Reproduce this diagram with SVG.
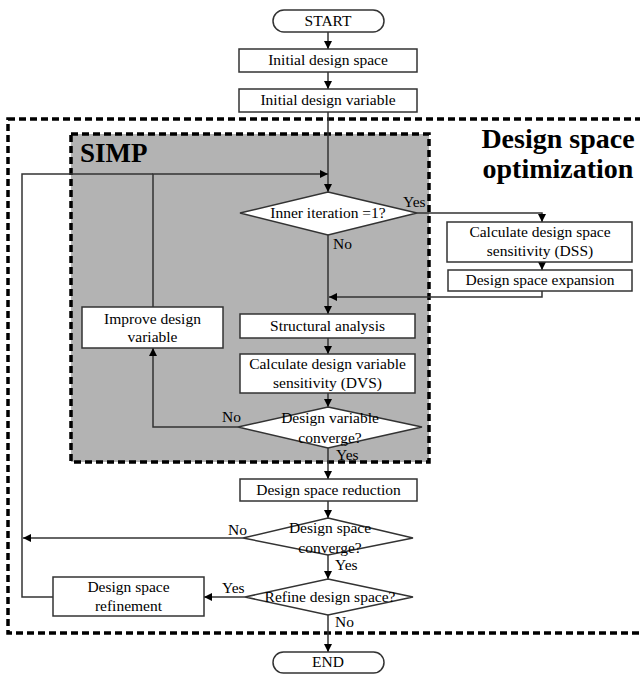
<svg xmlns="http://www.w3.org/2000/svg" width="640" height="674" viewBox="0 0 640 674">
<style>
  .box { fill: #ffffff; stroke: #333333; stroke-width: 1.5; }
  .t { font-family: "Liberation Serif", "Times New Roman", serif; font-size: 15.5px; fill: #000000; text-anchor: middle; }
  .lbl { font-family: "Liberation Serif", "Times New Roman", serif; font-size: 15.5px; fill: #000000; }
  .title { font-family: "Liberation Serif", "Times New Roman", serif; font-weight: bold; fill: #000000; }
  .dash { fill: none; stroke: #000000; stroke-width: 3.5; stroke-dasharray: 7 4; }
  .conn { fill: none; stroke: #333333; stroke-width: 1.5; }
</style>
<defs>
  <marker id="arr" viewBox="0 0 10 10" refX="10" refY="5" markerWidth="8" markerHeight="8" markerUnits="userSpaceOnUse" orient="auto">
    <path d="M0,0 L10,5 L0,10 z" fill="#000000"/>
  </marker>
</defs>
<rect width="640" height="674" fill="#ffffff"/>

<g id="outer-region">
  <rect x="8" y="119" width="636" height="514" class="dash"/>
  <text class="title" x="558" y="148" font-size="28" text-anchor="middle">Design space</text>
  <text class="title" x="558" y="178" font-size="28" text-anchor="middle">optimization</text>
</g>
<g id="simp-region">
  <rect x="71" y="134" width="358" height="328" fill="#b3b3b3"/>
  <rect x="71" y="134" width="358" height="328" class="dash"/>
  <text class="title" x="80" y="162" font-size="27">SIMP</text>
</g>

<g id="connectors">
  <path class="conn" d="M328,32 V49" marker-end="url(#arr)"/>
  <path class="conn" d="M328,72 V89" marker-end="url(#arr)"/>
  <path class="conn" d="M328,112 V192" marker-end="url(#arr)"/>
  <path class="conn" d="M153,307 V174 H328" marker-end="url(#arr)"/>
  <path class="conn" d="M53,597 H22 V174 H153"/>
  <path class="conn" d="M417,213 H542 V222" marker-end="url(#arr)"/>
  <path class="conn" d="M542,262 V270" marker-end="url(#arr)"/>
  <path class="conn" d="M542,291 V297 H329" marker-end="url(#arr)"/>
  <path class="conn" d="M328,235 V314" marker-end="url(#arr)"/>
  <path class="conn" d="M328,338 V354" marker-end="url(#arr)"/>
  <path class="conn" d="M328,393 V407" marker-end="url(#arr)"/>
  <path class="conn" d="M238,427 H153 V348" marker-end="url(#arr)"/>
  <path class="conn" d="M328,448 V479" marker-end="url(#arr)"/>
  <path class="conn" d="M328,501 V518" marker-end="url(#arr)"/>
  <path class="conn" d="M243,538 H23" marker-end="url(#arr)"/>
  <path class="conn" d="M328,555 V579" marker-end="url(#arr)"/>
  <path class="conn" d="M245,597 H204" marker-end="url(#arr)"/>
  <path class="conn" d="M328,615 V652" marker-end="url(#arr)"/>
  <text class="lbl" x="403" y="207">Yes</text>
  <text class="lbl" x="333" y="249">No</text>
  <text class="lbl" x="222" y="422">No</text>
  <text class="lbl" x="336" y="460">Yes</text>
  <text class="lbl" x="228" y="535">No</text>
  <text class="lbl" x="335" y="570">Yes</text>
  <text class="lbl" x="222" y="593">Yes</text>
  <text class="lbl" x="335" y="627">No</text>
</g>

<g id="start">
  <rect x="273" y="10" width="111" height="22" rx="11" class="box"/>
  <text class="t" x="328" y="26">START</text>
</g>
<g id="initial-design-space">
  <rect x="239" y="49" width="178" height="23" class="box"/>
  <text class="t" x="328" y="65">Initial design space</text>
</g>
<g id="initial-design-variable">
  <rect x="239" y="89" width="178" height="23" class="box"/>
  <text class="t" x="328" y="105">Initial design variable</text>
</g>
<g id="inner-iteration">
  <polygon points="328,192 417,213 328,235 240,213" class="box"/>
  <text class="t" x="328" y="218">Inner iteration =1?</text>
</g>
<g id="dss">
  <rect x="447" y="222" width="185" height="40" class="box"/>
  <text class="t" x="540" y="237">Calculate design space</text>
  <text class="t" x="540" y="256">sensitivity (DSS)</text>
</g>
<g id="expansion">
  <rect x="448" y="270" width="184" height="21" class="box"/>
  <text class="t" x="540" y="285">Design space expansion</text>
</g>
<g id="improve">
  <rect x="82" y="307" width="141" height="41" class="box"/>
  <text class="t" x="152.5" y="324">Improve design</text>
  <text class="t" x="152.5" y="342">variable</text>
</g>
<g id="structural">
  <rect x="240" y="314" width="175" height="24" class="box"/>
  <text class="t" x="327.5" y="331">Structural analysis</text>
</g>
<g id="dvs">
  <rect x="240" y="354" width="175" height="39" class="box"/>
  <text class="t" x="327.5" y="369">Calculate design variable</text>
  <text class="t" x="327.5" y="388">sensitivity (DVS)</text>
</g>
<g id="dv-converge">
  <polygon points="328,407 422,427 328,448 238,427" class="box"/>
  <text class="t" x="330" y="423">Design variable</text>
  <text class="t" x="330" y="443">converge?</text>
</g>
<g id="reduction">
  <rect x="240" y="479" width="177" height="22" class="box"/>
  <text class="t" x="328.5" y="495">Design space reduction</text>
</g>
<g id="ds-converge">
  <polygon points="328,518 413,538 328,555 243,538" class="box"/>
  <text class="t" x="330" y="533">Design space</text>
  <text class="t" x="330" y="553">converge?</text>
</g>
<g id="refine">
  <polygon points="328,579 413,597 328,615 245,597" class="box"/>
  <text class="t" x="330" y="602">Refine design space?</text>
</g>
<g id="refinement">
  <rect x="53" y="577" width="151" height="39" class="box"/>
  <text class="t" x="128.5" y="592">Design space</text>
  <text class="t" x="128.5" y="611">refinement</text>
</g>
<g id="end">
  <rect x="273" y="652" width="111" height="21" rx="10.5" class="box"/>
  <text class="t" x="328" y="667">END</text>
</g>
</svg>
